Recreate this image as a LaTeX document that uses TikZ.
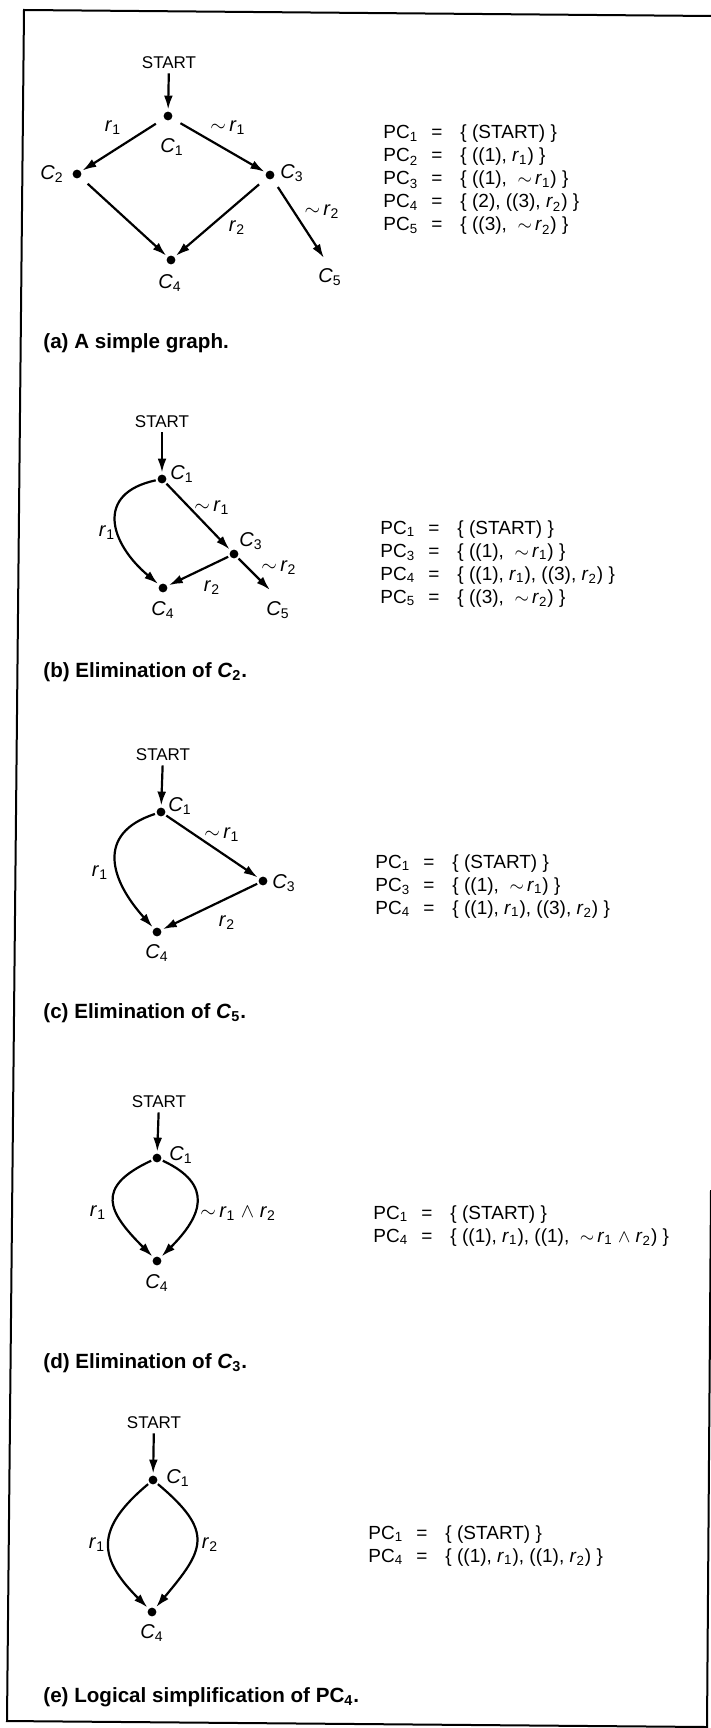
\documentclass[tikz,border=0pt]{standalone}
\usepackage{fontspec}
\setmainfont{Liberation Sans}
\usetikzlibrary{arrows.meta}
\newcommand{\Cl}[1]{\textit{C}\textsubscript{#1}}
\newcommand{\Rl}[1]{\textit{r}\textsubscript{#1}}
\newcommand{\Nt}{$\sim$\,}
\newcommand{\PC}[1]{PC\textsubscript{#1}}

\begin{document}
\begin{tikzpicture}[x=0.5pt,y=0.5pt,
    dot/.style={circle,fill,inner sep=0pt,minimum size=4.4pt,outer sep=1pt},
    arc/.style={line width=1.1pt,-{Latex[length=7pt,width=4.4pt]}},
    loose/.style={shorten <=4pt},
    lbl/.style={font=\fontsize{10}{11}\selectfont,inner sep=1pt},
    startlbl/.style={font=\fontsize{8.5}{10}\selectfont,inner sep=2pt},
    caption/.style={font=\fontsize{10.3}{12}\selectfont\bfseries,anchor=west,inner sep=0pt},
    pclist/.style={font=\fontsize{9.5}{11.5}\selectfont,anchor=base west,inner sep=0pt}]
  \useasboundingbox (0,0) rectangle (711,-1728);

  % Frame
  \draw[line width=1pt] (711,-16) -- (24,-10) -- (7,-1721) -- (707,-1727);
  \draw[line width=1pt] (711,-1190) -- (707,-1728);

  % (a) simple graph
  \node[startlbl] (as) at (169,-63) {START};
  \node[dot] (a1) at (168,-116) {};
  \node[dot] (a2) at (77,-174) {};
  \node[dot] (a3) at (270,-175) {};
  \node[dot] (a4) at (171,-260) {};
  \coordinate (a5) at (324,-258);
  \node[lbl] (a1l) at (172,-147) {\Cl1};
  \node[lbl] (a2l) at (52,-174) {\Cl2};
  \node[lbl] (a3l) at (292,-173) {\Cl3};
  \node[lbl] (a4l) at (170,-283) {\Cl4};
  \node[lbl] (a5l) at (330,-277) {\Cl5};
  \node[lbl] (ar1) at (113,-128) {\Rl1};
  \node[lbl] (anr1) at (228,-128) {\Nt\Rl1};
  \node[lbl] (ar2) at (237,-228) {\Rl2};
  \node[lbl] (anr2) at (322,-212) {\Nt\Rl2};
  \draw[arc] (as) -- (a1);
  \draw[arc,loose] (a1) -- (a2);
  \draw[arc,loose] (a2) -- (a4);
  \draw[arc,loose] (a1) -- (a3);
  \draw[arc,loose] (a3) -- (a4);
  \draw[arc,loose] (a3) -- (a5);
  \node[pclist] (apc) at (383,-139) {\begin{tabular}[t]{@{}p{24pt}@{}c@{\hspace{9pt}}l@{}}
    \PC1 & = & \{ (START) \}\\
    \PC2 & = & \{ ((1), \Rl1) \}\\
    \PC3 & = & \{ ((1), \ \Nt\Rl1) \}\\
    \PC4 & = & \{ (2), ((3), \Rl2) \}\\
    \PC5 & = & \{ ((3), \ \Nt\Rl2) \}
  \end{tabular}};
  \node[caption] (acap) at (43,-343) {(a) A simple graph.};

  % (b) C2 removed
  \node[startlbl] (bs) at (162,-422) {START};
  \node[dot] (b1) at (162,-479) {};
  \node[dot] (b3) at (234,-554) {};
  \node[dot] (b4) at (163,-588) {};
  \coordinate (b5) at (270,-590);
  \node[lbl] (b1l) at (182,-474) {\Cl1};
  \node[lbl] (b3l) at (251,-541) {\Cl3};
  \node[lbl] (b4l) at (163,-610) {\Cl4};
  \node[lbl] (b5l) at (278,-610) {\Cl5};
  \node[lbl] (br1) at (107,-533) {\Rl1};
  \node[lbl] (bnr1) at (212,-508) {\Nt\Rl1};
  \node[lbl] (br2) at (212,-588) {\Rl2};
  \node[lbl] (bnr2) at (279,-568) {\Nt\Rl2};
  \draw[arc] (bs) -- (b1);
  \draw[arc] (b1) to[out=192,in=140,looseness=1.55] (b4);
  \draw[arc] (b1) -- (b3);
  \draw[arc] (b3) -- (b4);
  \draw[arc] (b3) -- (b5);
  \node[pclist] (bpc) at (380,-534) {\begin{tabular}[t]{@{}p{24pt}@{}c@{\hspace{9pt}}l@{}}
    \PC1 & = & \{ (START) \}\\
    \PC3 & = & \{ ((1), \ \Nt\Rl1) \}\\
    \PC4 & = & \{ ((1), \Rl1), ((3), \Rl2) \}\\
    \PC5 & = & \{ ((3), \ \Nt\Rl2) \}
  \end{tabular}};
  \node[caption] (bcap) at (43,-672) {(b) Elimination of \textit{C}\textsubscript{2}.};

  % (c) C5 removed
  \node[startlbl] (cs) at (163,-755) {START};
  \node[dot] (c1) at (161,-812) {};
  \node[dot] (c3) at (263,-881) {};
  \node[dot] (c4) at (157,-932) {};
  \node[lbl] (c1l) at (180,-806) {\Cl1};
  \node[lbl] (c3l) at (284,-883) {\Cl3};
  \node[lbl] (c4l) at (157,-953) {\Cl4};
  \node[lbl] (cr1) at (100,-873) {\Rl1};
  \node[lbl] (cnr1) at (222,-835) {\Nt\Rl1};
  \node[lbl] (cr2) at (227,-923) {\Rl2};
  \draw[arc] (cs) -- (c1);
  \draw[arc] (c1) to[out=198,in=132,looseness=1.42] (c4);
  \draw[arc] (c1) -- (c3);
  \draw[arc] (c3) -- (c4);
  \node[pclist] (cpc) at (375,-868) {\begin{tabular}[t]{@{}p{24pt}@{}c@{\hspace{9pt}}l@{}}
    \PC1 & = & \{ (START) \}\\
    \PC3 & = & \{ ((1), \ \Nt\Rl1) \}\\
    \PC4 & = & \{ ((1), \Rl1), ((3), \Rl2) \}
  \end{tabular}};
  \node[caption] (ccap) at (43,-1013) {(c) Elimination of \textit{C}\textsubscript{5}.};

  % (d) C3 removed
  \node[startlbl] (ds) at (159,-1102) {START};
  \node[dot] (d1) at (157,-1158) {};
  \node[dot] (d4) at (157,-1261) {};
  \node[lbl] (d1l) at (181,-1155) {\Cl1};
  \node[lbl] (d4l) at (157,-1283) {\Cl4};
  \node[lbl] (dr1) at (98,-1213) {\Rl1};
  \node[lbl,anchor=west] (dnr) at (198,-1213) {\Nt\Rl1 $\land$ \Rl2};
  \draw[arc] (ds) -- (d1);
  \draw[arc] (d1) to[out=205,in=135,looseness=1.68] (d4);
  \draw[arc] (d1) to[out=-25,in=45,looseness=1.52] (d4);
  \node[pclist] (dpc) at (373,-1219) {\begin{tabular}[t]{@{}p{24pt}@{}c@{\hspace{9pt}}l@{}}
    \PC1 & = & \{ (START) \}\\
    \PC4 & = & \{ ((1), \Rl1), ((1), \ \Nt\Rl1 $\land$ \Rl2) \}
  \end{tabular}};
  \node[caption] (dcap) at (43,-1363) {(d) Elimination of \textit{C}\textsubscript{3}.};

  % (e) simplified PC4
  \node[startlbl] (es) at (154,-1423) {START};
  \node[dot] (e1) at (153,-1480) {};
  \node[dot] (e4) at (152,-1612) {};
  \node[lbl] (e1l) at (178,-1478) {\Cl1};
  \node[lbl] (e4l) at (152,-1633) {\Cl4};
  \node[lbl] (er1) at (97,-1545) {\Rl1};
  \node[lbl] (er2) at (210,-1545) {\Rl2};
  \draw[arc] (es) -- (e1);
  \draw[arc] (e1) to[out=220,in=135,looseness=1.45] (e4);
  \draw[arc] (e1) to[out=-40,in=50,looseness=1.55] (e4);
  \node[pclist] (epc) at (368,-1539) {\begin{tabular}[t]{@{}p{24pt}@{}c@{\hspace{9pt}}l@{}}
    \PC1 & = & \{ (START) \}\\
    \PC4 & = & \{ ((1), \Rl1), ((1), \Rl2) \}
  \end{tabular}};
  \node[caption] (ecap) at (43,-1697) {(e) Logical simplification of PC\textsubscript{4}.};
\end{tikzpicture}
\end{document}
